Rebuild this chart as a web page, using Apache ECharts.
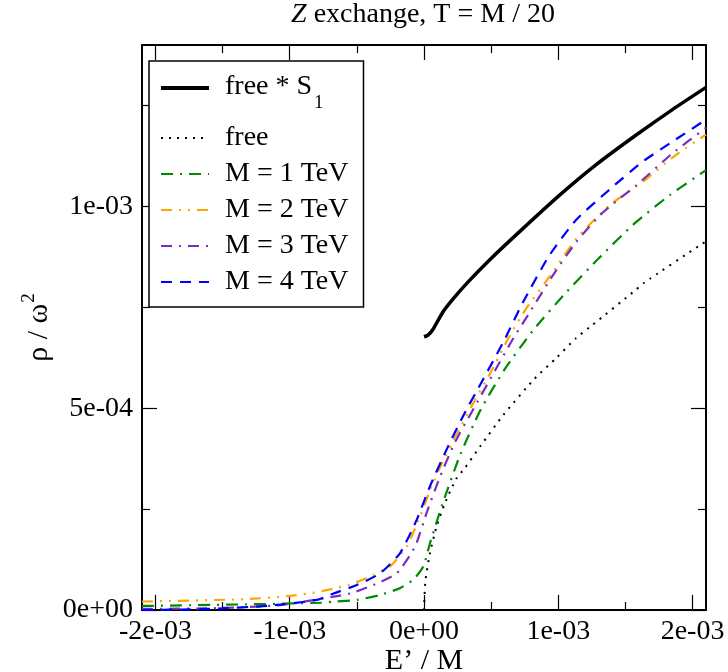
<!DOCTYPE html>
<html>
<head>
<meta charset="utf-8">
<script src="https://cdn.jsdelivr.net/npm/echarts@6/dist/echarts.min.js"></script>
<style>
  html, body { margin: 0; padding: 0; background: #fff; }
  #chart { width: 728px; height: 672px; }
</style>
</head>
<body>
<div id="chart"></div>
<script>
// All pairs are [E'/M, rho/omega^2], both given in units of 1e-3.
const UNIT = 1e-3;

const freeS1 = [
  [0.00, 0.677], [0.03, 0.681], [0.07, 0.697], [0.14, 0.738], [0.22, 0.772],
  [0.32, 0.810], [0.49, 0.868], [0.71, 0.937], [1.01, 1.028], [1.28, 1.103],
  [1.58, 1.177], [1.85, 1.240], [2.10, 1.295]
];

const free = [
  [0.00, 0.000], [0.01, 0.070], [0.045, 0.142], [0.094, 0.207], [0.156, 0.265],
  [0.24, 0.325], [0.30, 0.350], [0.42, 0.406], [0.59, 0.483], [0.82, 0.572],
  [0.99, 0.626], [1.13, 0.673], [1.25, 0.705], [1.58, 0.794], [1.64, 0.811],
  [2.06, 0.905], [2.10, 0.913]
];

const m1TeV = [
  [-2.10, 0.010], [-1.32, 0.014], [-0.77, 0.018], [-0.66, 0.021], [-0.50, 0.025],
  [-0.33, 0.037], [-0.18, 0.054], [-0.08, 0.075], [-0.005, 0.108], [0.045, 0.166],
  [0.14, 0.265], [0.27, 0.385], [0.42, 0.495], [0.60, 0.596], [0.81, 0.692],
  [1.05, 0.784], [1.30, 0.871], [1.555, 0.954], [1.83, 1.028], [2.10, 1.090]
];

const m2TeV = [
  [-2.10, 0.021], [-1.32, 0.027], [-1.00, 0.035], [-0.80, 0.044], [-0.66, 0.054],
  [-0.525, 0.066], [-0.377, 0.087], [-0.253, 0.108], [-0.129, 0.157], [-0.03, 0.232],
  [0.057, 0.307], [0.143, 0.370], [0.243, 0.435], [0.354, 0.505], [0.49, 0.585],
  [0.639, 0.680], [0.763, 0.748], [0.961, 0.838], [1.134, 0.920], [1.382, 1.003],
  [1.629, 1.061], [1.877, 1.128], [2.10, 1.178]
];

const m3TeV = [
  [-2.10, 0.003], [-1.60, 0.004], [-1.07, 0.012], [-0.674, 0.033], [-0.55, 0.041],
  [-0.377, 0.062], [-0.203, 0.091], [-0.067, 0.157], [0.020, 0.241], [0.119, 0.330],
  [0.230, 0.415], [0.366, 0.497], [0.515, 0.585], [0.663, 0.672], [0.788, 0.738],
  [0.961, 0.830], [1.134, 0.912], [1.332, 0.985], [1.58, 1.052], [1.852, 1.132],
  [2.10, 1.195]
];

const m4TeV = [
  [-2.10, 0.000], [-1.84, 0.001], [-1.565, 0.003], [-1.144, 0.011], [-0.797, 0.025],
  [-0.674, 0.041], [-0.500, 0.062], [-0.327, 0.091], [-0.178, 0.141], [-0.054, 0.224],
  [0.045, 0.307], [0.169, 0.398], [0.292, 0.481], [0.441, 0.572], [0.589, 0.663],
  [0.738, 0.763], [0.936, 0.880], [1.134, 0.967], [1.382, 1.042], [1.629, 1.111],
  [1.852, 1.161], [2.10, 1.215]
];

const seriesNames = ['free * S1', 'free', 'M = 1 TeV', 'M = 2 TeV', 'M = 3 TeV', 'M = 4 TeV'];

const xMajorTicks = [-2e-3, -1e-3, 0, 1e-3, 2e-3];
const xMinorTicks = [-1.5e-3, -0.5e-3, 0.5e-3, 1.5e-3];
const yMajorTicks = [0, 5e-4, 1e-3];
const yMinorTicks = [2.5e-4, 7.5e-4, 1.25e-3];

const X_MIN = -2.1e-3, X_MAX = 2.1e-3;
const Y_MIN = 0, Y_MAX = 1.4e-3;

const FONT = 'Liberation Serif';

function sci(v) {
  if (Math.abs(v) < 1e-15) return '0e+00';
  const e = Math.floor(Math.log10(Math.abs(v)) + 1e-9);
  const m = Math.round(v / Math.pow(10, e));
  return m + 'e' + (e < 0 ? '-' : '+') + String(Math.abs(e)).padStart(2, '0');
}

function scaled(arr) {
  return arr.map(p => [p[0] * UNIT, p[1] * UNIT]);
}

const frameLine = { show: true, onZero: false, lineStyle: { color: '#000', width: 2 } };

function xAxisDef(position, ticks, len, withLine, withLabels) {
  return {
    type: 'value', position, min: X_MIN, max: X_MAX,
    axisLine: withLine ? frameLine : { show: false, onZero: false },
    axisTick: { show: true, inside: true, length: len, customValues: ticks,
                lineStyle: { color: '#000', width: 1.2 } },
    axisLabel: withLabels
      ? { show: true, customValues: ticks, formatter: sci, margin: 8,
          fontFamily: FONT, fontSize: 28, color: '#000' }
      : { show: false },
    splitLine: { show: false },
    minorTick: { show: false }
  };
}

function yAxisDef(position, ticks, len, withLine, withLabels) {
  return {
    type: 'value', position, min: Y_MIN, max: Y_MAX,
    axisLine: withLine ? frameLine : { show: false, onZero: false },
    axisTick: { show: true, inside: true, length: len, customValues: ticks,
                lineStyle: { color: '#000', width: 1.2 } },
    axisLabel: withLabels
      ? { show: true, customValues: ticks, formatter: sci, margin: 9,
          fontFamily: FONT, fontSize: 28, color: '#000' }
      : { show: false },
    splitLine: { show: false },
    minorTick: { show: false }
  };
}

const xMain = xAxisDef('bottom', xMajorTicks, 15, true, true);
xMain.name = 'E\u2019 / M';
xMain.nameLocation = 'middle';
xMain.nameGap = 36;
xMain.nameMoveOverlap = false;
xMain.nameTextStyle = { fontFamily: FONT, fontSize: 30, color: '#000' };

const yMain = yAxisDef('left', yMajorTicks, 15, true, true);
yMain.name = '{a|\u03C1 / \u03C9}{sup|2}';
yMain.nameLocation = 'middle';
yMain.nameGap = 88;
yMain.nameMoveOverlap = false;
yMain.nameTextStyle = {
  fontFamily: FONT, fontSize: 30, color: '#000',
  rich: {
    a: { fontFamily: FONT, fontSize: 30, color: '#000', lineHeight: 34, verticalAlign: 'bottom' },
    sup: { fontFamily: FONT, fontSize: 19, color: '#000', lineHeight: 34, verticalAlign: 'top', padding: [0, 0, 14, 1] }
  }
};

function lineSeries(name, data, color, width, dash) {
  return {
    name, type: 'line', data: scaled(data), xAxisIndex: 0, yAxisIndex: 0,
    symbol: 'none', showSymbol: false, smooth: 0.2,
    lineStyle: { color, width, type: dash },
    itemStyle: { color },
    emphasis: { disabled: true },
    animation: false
  };
}

const chart = echarts.init(document.getElementById('chart'), null, { renderer: 'canvas' });

chart.setOption({
  backgroundColor: '#fff',
  animation: false,
  title: {
    text: '{i|Z} exchange, T = M / 20',
    left: 418, top: -4, textAlign: 'center',
    textStyle: {
      fontFamily: FONT, fontSize: 28, fontWeight: 'normal', color: '#000',
      rich: {
        i: { fontFamily: FONT, fontSize: 28, fontStyle: 'italic', color: '#000' }
      }
    }
  },
  grid: { left: 142, right: 22, top: 45, bottom: 62, containLabel: false, outerBoundsMode: 'none' },
  xAxis: [
    xMain,
    xAxisDef('bottom', xMinorTicks, 8, false, false),
    xAxisDef('top', xMajorTicks, 15, true, false),
    xAxisDef('top', xMinorTicks, 8, false, false)
  ],
  yAxis: [
    yMain,
    yAxisDef('left', yMinorTicks, 8, false, false),
    yAxisDef('right', yMajorTicks, 15, true, false),
    yAxisDef('right', yMinorTicks, 8, false, false)
  ],
  legend: {
    orient: 'vertical', left: 149, top: 61,
    itemWidth: 48, itemHeight: 14, itemGap: 6,
    padding: [12, 15, 10, 10],
    backgroundColor: '#fff', borderColor: '#000', borderWidth: 1.5, borderRadius: 0,
    selectedMode: false,
    data: seriesNames.map((name, i) => (i === 0 ? { name, lineStyle: { width: 4 } } : { name })),
    itemStyle: { color: 'rgba(0,0,0,0)', borderColor: 'rgba(0,0,0,0)', borderWidth: 0 },
    formatter: name => name === seriesNames[0] ? '{a|free * S}{sub|1}' : name,
    textStyle: {
      fontFamily: FONT, fontSize: 28, color: '#000', lineHeight: 30, padding: [0, 0, 0, 11],
      rich: {
        a: { fontFamily: FONT, fontSize: 28, color: '#000', lineHeight: 30, verticalAlign: 'top' },
        sub: { fontFamily: FONT, fontSize: 19, color: '#000', lineHeight: 19, verticalAlign: 'top', padding: [21, 0, 4, 2] }
      }
    }
  },
  series: [
    lineSeries(seriesNames[0], freeS1, '#000000', 3.5, 'solid'),
    lineSeries(seriesNames[1], free, '#000000', 2, [2, 6]),
    lineSeries(seriesNames[2], m1TeV, '#008a00', 2.2, [12, 7, 2, 7]),
    lineSeries(seriesNames[3], m2TeV, '#ffa500', 2.2, [11, 7, 2, 7, 2, 7]),
    lineSeries(seriesNames[4], m3TeV, '#7630be', 2.2, [11, 7, 2, 7]),
    lineSeries(seriesNames[5], m4TeV, '#0000ff', 2.2, [11, 8])
  ]
});
</script>
</body>
</html>
